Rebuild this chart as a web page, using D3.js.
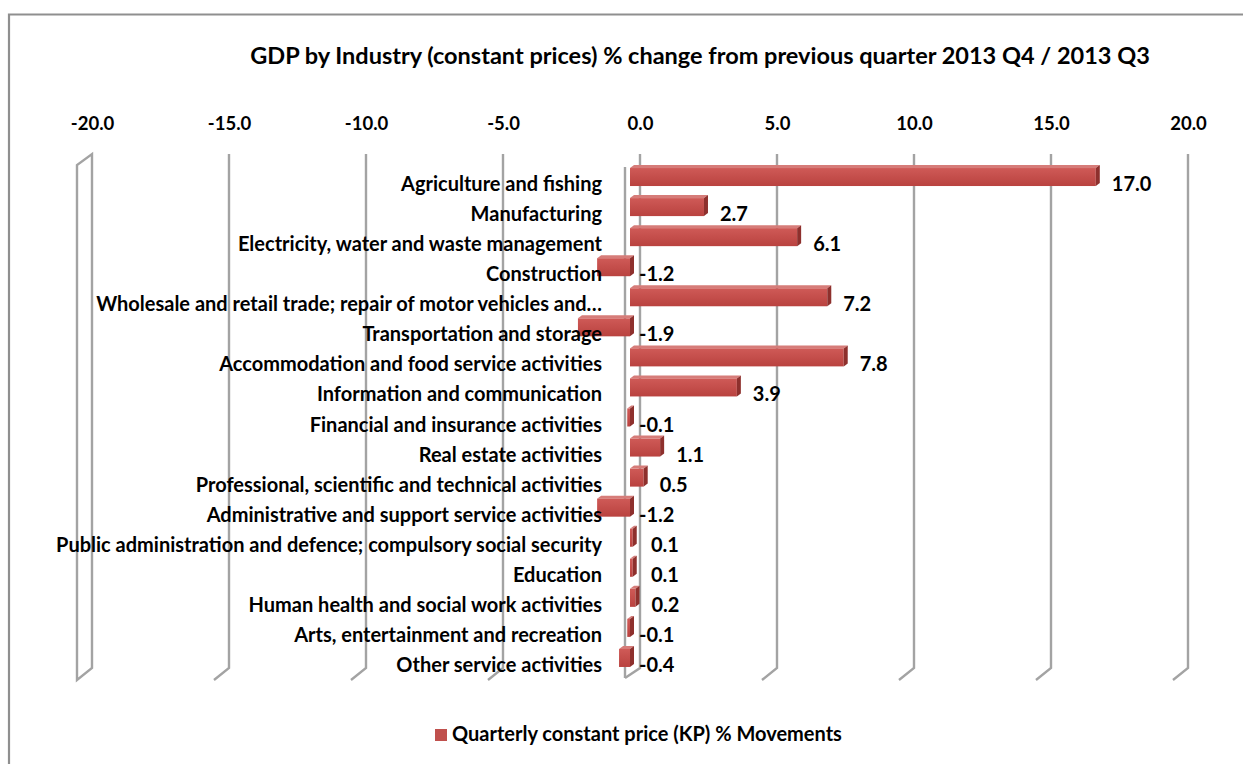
<!DOCTYPE html>
<html>
<head>
<meta charset="utf-8">
<script src="https://cdn.jsdelivr.net/npm/d3@7"></script>
<style>
  html, body { margin: 0; padding: 0; background: #fff; }
  svg text { font-family: "Lato", "Liberation Sans", sans-serif; font-weight: bold; fill: #000; }
</style>
</head>
<body>
<svg id="chart" width="1243" height="764"></svg>
<script>
const categories = [
  "Agriculture and fishing",
  "Manufacturing",
  "Electricity, water and waste management",
  "Construction",
  "Wholesale and retail trade; repair of motor vehicles and…",
  "Transportation and storage",
  "Accommodation and food service activities",
  "Information and communication",
  "Financial and insurance activities",
  "Real estate activities",
  "Professional, scientific and technical activities",
  "Administrative and support service activities",
  "Public administration and defence; compulsory social security",
  "Education",
  "Human health and social work activities",
  "Arts, entertainment and recreation",
  "Other service activities"
];
const values = [17.0, 2.7, 6.1, -1.2, 7.2, -1.9, 7.8, 3.9, -0.1, 1.1, 0.5, -1.2, 0.1, 0.1, 0.2, -0.1, -0.4];
const tickValues = [-20, -15, -10, -5, 0, 5, 10, 15, 20];
const seriesName = "Quarterly constant price (KP) % Movements";
const title = "GDP by Industry (constant prices) % change from previous quarter 2013 Q4 / 2013 Q3";

const svg = d3.select("#chart");

// 3D geometry
const backTop = 154, backBottom = 668;
const depthX = -15, depthY = 12;      // front plane offset from back plane
const barShift = -10;                 // bar front face offset from back plane (x)
const barDX = 4, barDY = -3;          // bar depth extrusion (towards back)

const xBack = d3.scaleLinear().domain([-20, 20]).range([92, 1188]);
const xBar = v => xBack(v) + barShift;
const y = d3.scaleBand().domain(categories).range([162, 673]).padding(0);

const gridColor = "#a3a3a3";

// outer border
svg.append("path")
  .attr("d", "M9,770 V14.5 H1250")
  .attr("fill", "none").attr("stroke", "#8f8f8f").attr("stroke-width", 2.2);

// title
svg.append("text")
  .attr("x", 700).attr("y", 64)
  .attr("text-anchor", "middle")
  .style("font-size", "23.5px")
  .text(title);

// gridlines (3D walls)
const grid = svg.append("g").attr("fill", "none").attr("stroke", gridColor).attr("stroke-width", 2.4)
  .attr("stroke-linejoin", "miter");
tickValues.forEach(t => {
  const xb = xBack(t), xf = xb + depthX;
  if (t === -20) {
    grid.append("path").attr("d",
      `M${xb},${backTop} L${xb},${backBottom} L${xf},${backBottom + depthY} L${xf},${backTop + depthY - 1} Z`);
  } else if (t === 0) {
    grid.append("path").attr("d",
      `M${xb},${backTop} L${xb},${backBottom} L${xf},${backBottom + depthY - 2}`);
    grid.append("path").attr("d",
      `M${xf},${backTop + 13} L${xf},${backBottom + depthY - 2}`);
  } else {
    grid.append("path").attr("d",
      `M${xb},${backTop} L${xb},${backBottom} L${xf},${backBottom + depthY}`);
  }
});

// axis tick labels (top)
const xAxis = d3.axisTop(xBack).tickValues(tickValues).tickFormat(d3.format(".1f")).tickSize(0).tickPadding(0);
const axG = svg.append("g").attr("transform", "translate(0,130)").call(xAxis);
axG.select(".domain").remove();
axG.selectAll("text")
  .attr("y", 0).attr("dy", 0)
  .style("font-size", "18.5px")
  .style("font-family", "Lato, 'Liberation Sans', sans-serif")
  .style("font-weight", "bold")
  .attr("fill", "#000")
  .text(d => d3.format(".1f")(d).replace("−", "-"));

// bars
const defs = svg.append("defs");
const grad = defs.append("linearGradient").attr("id", "frontGrad").attr("x1", 0).attr("y1", 0).attr("x2", 0).attr("y2", 1);
grad.append("stop").attr("offset", "0%").attr("stop-color", "#cf5a57");
grad.append("stop").attr("offset", "100%").attr("stop-color", "#b9423f");

const barH = 18;
const bars = svg.append("g");
categories.forEach((c, i) => {
  const v = values[i];
  const yc = y(c) + y.bandwidth() / 2;
  const x0 = xBar(Math.min(0, v)), x1 = xBar(Math.max(0, v));
  const yT = yc - barH / 2, yB = yc + barH / 2;
  bars.append("path")
    .attr("d", `M${x0},${yT} L${x1},${yT} L${x1 + barDX},${yT + barDY} L${x0 + barDX},${yT + barDY} Z`)
    .attr("fill", "#d67c79");
  bars.append("rect")
    .attr("x", x0).attr("y", yT).attr("width", Math.max(0.5, x1 - x0)).attr("height", barH)
    .attr("fill", "url(#frontGrad)");
  bars.append("path")
    .attr("d", `M${x1},${yT} L${x1 + barDX},${yT + barDY} L${x1 + barDX},${yB + barDY} L${x1},${yB} Z`)
    .attr("fill", "#8e302d");
});

// category labels
svg.append("g").selectAll("text").data(categories).join("text")
  .attr("x", 602)
  .attr("y", d => y(d) + y.bandwidth() / 2 + 7)
  .attr("dy", "0.35em")
  .attr("text-anchor", "end")
  .style("font-size", "20px")
  .text(d => d);

// value labels
svg.append("g").selectAll("text").data(values).join("text")
  .attr("x", v => v >= 0 ? Math.max(xBar(v) + 16, xBar(0) + 21) : xBar(0) + 9)
  .attr("y", (v, i) => y(categories[i]) + y.bandwidth() / 2 + 7)
  .attr("dy", "0.35em")
  .style("font-size", "20px")
  .text(v => d3.format(".1f")(v).replace("−", "-"));

// legend
const lg = svg.append("g");
lg.append("rect").attr("x", 435).attr("y", 729).attr("width", 12).attr("height", 12).attr("fill", "#c0504d");
lg.append("text").attr("x", 452).attr("y", 741).style("font-size", "20px").text(seriesName);
</script>
</body>
</html>
